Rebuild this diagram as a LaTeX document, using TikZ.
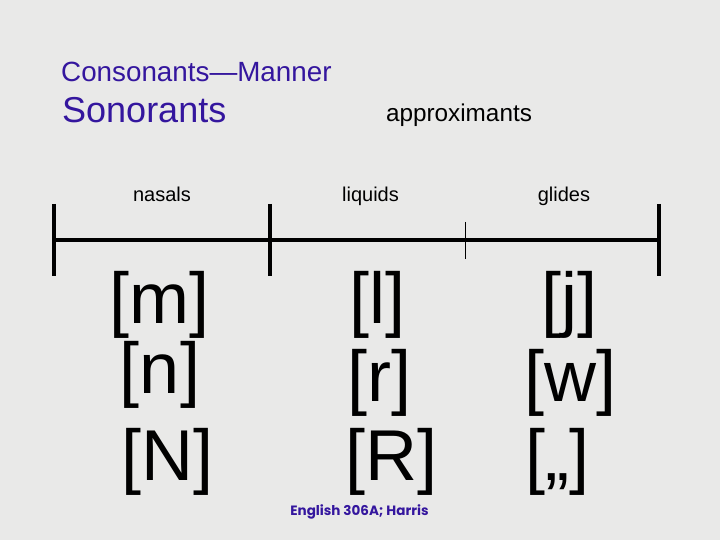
\documentclass[tikz,border=0pt]{standalone}
\usepackage{fontspec}
\setmainfont{Liberation Sans}
\newfontfamily\footfont{Poppins}
\definecolor{bgray}{RGB}{233,233,232}
\definecolor{indigo}{RGB}{52,22,158}
\tikzset{
  title/.style={anchor=base west, inner sep=0pt, text=indigo},
  lab/.style={anchor=base, inner sep=0pt, font=\fontsize{20}{20}\selectfont},
  seg/.style={anchor=base, inner sep=0pt, font=\fontsize{72}{72}\selectfont},
  thick tick/.style={line width=4pt},
  thin tick/.style={line width=1.3pt},
  scaleline/.style={line width=4.5pt}
}
\begin{document}
\begin{tikzpicture}[x=1pt,y=-1pt]
\fill[bgray] (0,0) rectangle (720,540);
\useasboundingbox (0,0) rectangle (720,540);
% titles
\node[title, font=\fontsize{27.8}{28}\selectfont] (t1) at (61,82) {Consonants—Manner};
\node[title, font=\fontsize{36}{36}\selectfont] (t2) at (62,122.7) {Sonorants};
\node[anchor=base, inner sep=0pt, font=\fontsize{24.3}{25}\selectfont] (ap) at (459,122) {approximants};
% category labels
\node[lab] (nas) at (162,202) {nasals};
\node[lab] (liq) at (370.5,202) {liquids};
\node[lab] (gli) at (564,202) {glides};
% scale
\coordinate (a1) at (54,204);
\coordinate (a2) at (54,276);
\coordinate (b1) at (270,204);
\coordinate (b2) at (270,276);
\coordinate (c1) at (465.3,222);
\coordinate (c2) at (465.3,259);
\coordinate (d1) at (659,204);
\coordinate (d2) at (659,276);
\coordinate (l1) at (54,240);
\coordinate (l2) at (659,240);
\draw[scaleline] (l1) -- (l2);
\draw[thick tick] (a1) -- (a2);
\draw[thick tick] (b1) -- (b2);
\draw[thick tick] (d1) -- (d2);
\draw[thin tick] (c1) -- (c2);
% segments
\node[seg] (m) at (159,323) {[m]};
\node[seg] (n) at (160,393) {[n]};
\node[seg] (N) at (167,480) {[N]};
\node[seg] (l) at (377.5,323) {[l]};
\node[seg] (r) at (379,401) {[r]};
\node[seg] (R) at (391.5,480) {[R]};
\node[seg] (j) at (569.5,323) {[j]};
\node[seg] (w) at (570.5,401) {[w]};
\node[seg] (q) at (557,480) {[„]};
% footer
\node[anchor=base, inner sep=0pt, text=indigo, font=\footfont\bfseries\fontsize{13.5}{14}\selectfont] (foot) at (359.5,515) {English 306A; Harris};
\end{tikzpicture}
\end{document}
